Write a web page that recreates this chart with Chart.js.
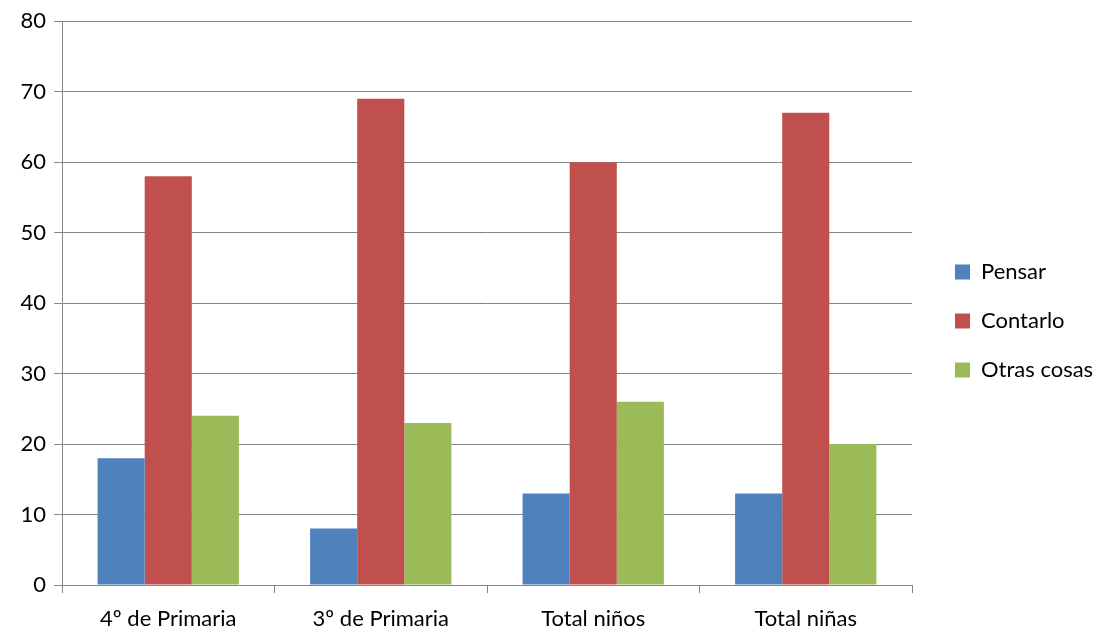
<!DOCTYPE html>
<html>
<head>
<meta charset="utf-8">
<script src="https://cdn.jsdelivr.net/npm/chart.js@4/dist/chart.umd.min.js"></script>
<style>
html,body{margin:0;padding:0;background:#fff;}
#wrap{width:1107px;height:633px;position:relative;}
</style>
</head>
<body>
<div id="wrap"><canvas id="c" width="1107" height="633"></canvas></div>
<script>
const categories = ["4º de Primaria", "3º de Primaria", "Total niños", "Total niñas"];
const pensar = [18, 8, 13, 13];
const contarlo = [58, 69, 60, 67];
const otrasCosas = [24, 23, 26, 20];
const seriesNames = ["Pensar", "Contarlo", "Otras cosas"];
const yTicks = [0, 10, 20, 30, 40, 50, 60, 70, 80];

const FONT = "Lato, 'Open Sans', sans-serif";
const FSIZE = 22;
const gridColor = "#868686";

const legendFix = {
  id: 'legendFix',
  afterInit(chart) {
    const lg = chart.legend;
    if (lg && !lg._wrapped) {
      const orig = lg.fit.bind(lg);
      lg.fit = function () { orig(); this.width = 195; };
      lg._wrapped = true;
    }
  },
  afterLayout(chart) {
    const lg = chart.legend;
    if (lg) { lg.left += 16; lg.right += 16; lg.top -= 5; lg.bottom -= 5; }
  }
};

new Chart(document.getElementById('c'), {
  type: 'bar',
  data: {
    labels: categories,
    datasets: [
      { label: seriesNames[0], data: pensar, backgroundColor: "#4F81BD" },
      { label: seriesNames[1], data: contarlo, backgroundColor: "#C0504D" },
      { label: seriesNames[2], data: otrasCosas, backgroundColor: "#9BBB59" }
    ]
  },
  options: {
    responsive: false,
    animation: false,
    layout: { padding: { top: 19, left: 0, right: 0, bottom: 0 } },
    datasets: { bar: { categoryPercentage: 0.665, barPercentage: 1.0 } },
    plugins: {
      tooltip: { enabled: false },
      legend: {
        position: 'right',
        labels: {
          boxWidth: 15, boxHeight: 15, padding: 27,
          color: '#000',
          font: { family: FONT, size: FSIZE }
        }
      }
    },
    scales: {
      x: {
        grid: { drawOnChartArea: false, drawTicks: true, tickLength: 8, color: gridColor, offset: true },
        border: { color: gridColor, width: 1 },
        ticks: { color: '#000', font: { family: FONT, size: FSIZE }, padding: 13, maxRotation: 0 },
        afterFit(s) { s.height = 48; }
      },
      y: {
        min: 0, max: 80,
        afterBuildTicks(s) { s.ticks = yTicks.map(v => ({ value: v })); },
        grid: { color: gridColor, tickLength: 8, drawTicks: true },
        border: { color: gridColor, width: 1 },
        ticks: { color: '#000', font: { family: FONT, size: FSIZE }, padding: 8 },
        afterFit(s) { s.width = 62; }
      }
    }
  },
  plugins: [legendFix]
});
</script>
</body>
</html>
